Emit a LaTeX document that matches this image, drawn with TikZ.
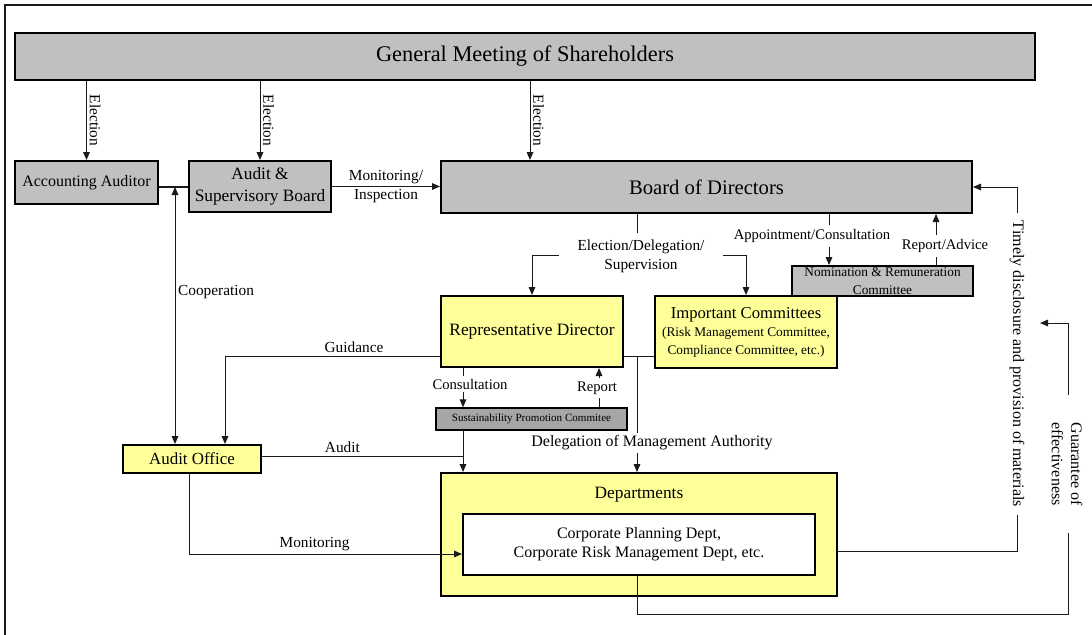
\documentclass[tikz,border=0pt]{standalone}
\usepackage{fontspec}
\setmainfont{Liberation Serif}
\usetikzlibrary{arrows.meta,positioning}
\definecolor{boxgray}{HTML}{C0C0C0}
\definecolor{boxdark}{HTML}{A6A6A6}
\definecolor{boxyellow}{HTML}{FFFF99}
\definecolor{lineink}{HTML}{1A1A1A}
\newcommand{\fs}[2]{\fontsize{#1}{#2}\selectfont}
\tikzset{
  corners/.style n args={4}{minimum width={(#3-#1)*0.75pt},
              minimum height={(#4-#2)*0.75pt},
              at={({(#1+#3)/2},{(#2+#4)/2})}},
  box/.style={rectangle,draw=black,line width=1.5pt,inner sep=0pt,
              align=center,text=black},
  graybox/.style={box,fill=boxgray},
  darkbox/.style={box,fill=boxdark,line width=1.1pt},
  yellowbox/.style={box,fill=boxyellow},
  whitebox/.style={box,fill=white},
  flow/.style={-{Triangle[length=6pt,width=5pt]},line width=0.75pt,draw=lineink},
  both/.style={{Triangle[length=6pt,width=5pt]}-{Triangle[length=6pt,width=5pt]},
               line width=0.75pt,draw=lineink},
  link/.style={line width=0.75pt,draw=lineink},
  lbl/.style={font=\fs{11.5}{14.5},inner sep=2pt,align=center,text=black},
  cut/.style={lbl,fill=white},
}

\begin{document}
\begin{tikzpicture}[x=0.75pt,y=-0.75pt]
\useasboundingbox (0,0) rectangle (1092,635);
\draw[line width=1.2pt,draw=lineink] (5,645) -- (5,5) -- (1100,5);

% boxes
\node[graybox,corners={15}{33}{1035}{80},font=\fs{16.8}{19}] (gms) {General Meeting of Shareholders};
\node[graybox,corners={15}{161}{158}{204},font=\fs{12}{14}] (acc) {Accounting Auditor};
\node[graybox,corners={189}{161}{331}{212},font=\fs{13}{17}] (asb) {Audit \&\\Supervisory Board};
\node[graybox,corners={441}{161}{972}{213},font=\fs{15.5}{18}] (board) {Board of Directors};
\node[graybox,corners={792}{266}{973}{296},font=\fs{10}{13.5}] (nom) {Nomination \& Remuneration\\Committee};
\node[yellowbox,corners={655}{296}{837}{368},font=\fs{10}{13.5}] (imp)
  {{\fs{12.5}{16}Important Committees}\\(Risk Management Committee,\\Compliance Committee, etc.)};
\node[yellowbox,corners={441}{296}{623}{367},font=\fs{13}{16}] (rep) {Representative Director};
\node[darkbox,corners={436}{408}{627}{430},font=\fs{8.3}{10}] (spc) {Sustainability Promotion Commitee};
\node[yellowbox,corners={123}{445}{261}{473},font=\fs{12.7}{15}] (aud) {Audit Office};
\node[yellowbox,corners={441}{473}{837}{596}] (dept) {};
\node[lbl,font=\fs{13}{15}] (depthd) at (639,495) {Departments};
\node[whitebox,corners={463}{514}{815}{575},font=\fs{12}{14.5}] (dinner)
  {Corporate Planning Dept,\\Corporate Risk Management Dept, etc.};

% election
\coordinate (el) at (530,0);
\draw[flow] (gms.south -| acc) -- node[lbl,rotate=-90,anchor=south] (lbel1) {Election} (acc.north);
\draw[flow] (gms.south -| asb) -- node[lbl,rotate=-90,anchor=south] (lbel2) {Election} (asb.north);
\draw[flow] (gms.south -| el) -- node[lbl,rotate=-90,anchor=south] (lbel3) {Election} (board.north -| el);

% auditors
\coordinate (coop) at (175,187);
\draw[link,line width=1.2pt] (acc.east |- coop) -- (asb.west |- coop);
\draw[both] (coop) -- node[lbl,right,pos=0.41] (lbco) {Cooperation} (aud.north -| coop);
\draw[flow] (asb.east) -- node[lbl,above] (lbmi1) {Monitoring/} node[lbl,below] (lbmi2) {Inspection} (asb.east -| board.west);

% board downwards
\coordinate (es) at (637,255);
\draw[link] (board.south -| es) -- (es);
\draw[flow] (es) -| (rep.north);
\draw[flow] (es) -| (imp.north);
\coordinate (ap) at (829,0);
\draw[flow] (board.south -| ap) -- (nom.north -| ap);
\coordinate (ra) at (936,0);
\draw[flow] (nom.north -| ra) -- (board.south -| ra);

% representative director
\coordinate (gd) at (225,356);
\draw[flow] (rep.west |- gd) -| node[lbl,above,pos=0.2] (lbgd) {Guidance} (aud.north -| gd);
\coordinate (cs) at (463,0);
\draw[flow] (rep.south -| cs) -- (spc.north -| cs);
\coordinate (rp) at (599,0);
\draw[flow] (spc.north -| rp) -- (rep.south -| rp);
\coordinate (dl) at (637,356);
\draw[link] (rep.east |- dl) -- (imp.west |- dl);
\draw[flow] (dl) -- (dept.north -| dl);

% into departments
\coordinate (au) at (463,456);
\draw[link] (aud.east |- au) -- node[lbl,above,pos=0.4] (lbau) {Audit} (au);
\draw[flow] (spc.south -| au) -- (dept.north -| au);
\coordinate (mo) at (189,554);
\draw[flow] (aud.south -| mo) |- node[lbl,above,pos=0.73] (lbmo) {Monitoring} (dinner.west |- mo);

% right side loops
\coordinate (td) at (1017,551);
\draw[flow] (dept.east |- td) -| (board.east -| td) -- (board.east);
\coordinate (gx) at (637,614);
\coordinate (gr) at (1068,614);
\coordinate (gt) at (1040,323);
\draw[flow] (dinner.south -| gx) |- (gr) |- (gt);

% labels cutting the lines
\node[cut,inner xsep=14pt,inner ysep=5pt] (lbes) at (641,256) {Election/Delegation/\\Supervision};
\node[cut,font=\fs{11}{13},inner ysep=3.5pt] (lbap) at (812,236) {Appointment/Consultation};
\node[cut,font=\fs{11}{13},inner ysep=3.5pt] (lbra) at (945,246) {Report/Advice};
\node[cut,font=\fs{11}{13}] (lbcs) at (470,384) {Consultation};
\node[cut,font=\fs{11}{13},inner ysep=3pt] (lbrp) at (597,388) {Report};
\node[cut,font=\fs{12}{14}] (lbdl) at (652,443) {Delegation of Management Authority};
\node[cut,rotate=-90,font=\fs{12}{14},inner xsep=6pt] (lbtd) at (1017,364) {Timely disclosure and provision of materials};
\node[cut,rotate=-90,font=\fs{12}{14.5},minimum width=103pt] (lbgu) at (1067,464) {Guarantee of\\effectiveness};
\end{tikzpicture}
\end{document}
